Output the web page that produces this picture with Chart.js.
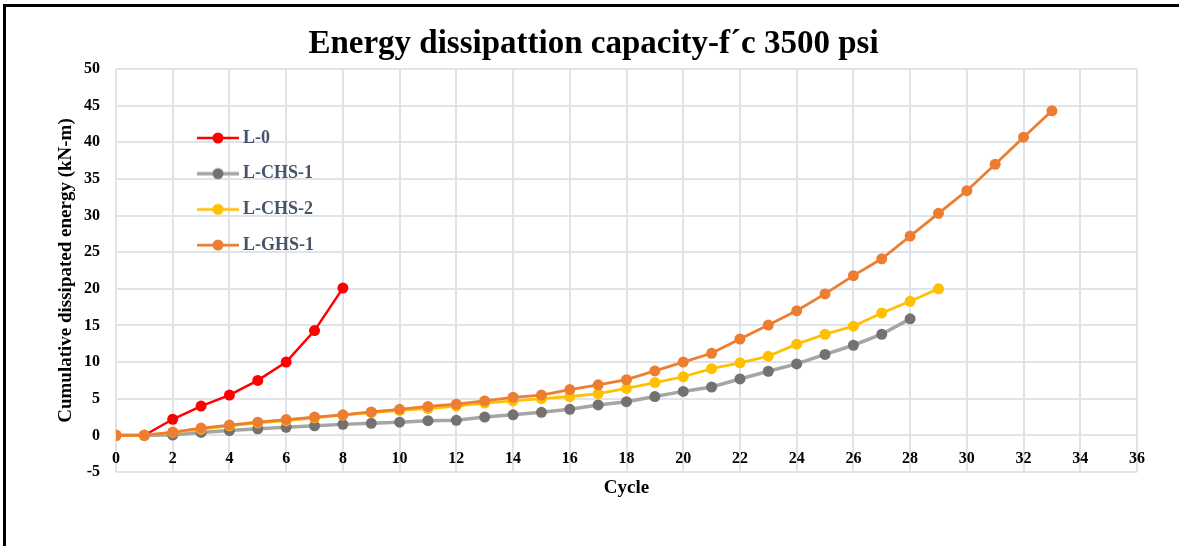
<!DOCTYPE html>
<html>
<head>
<meta charset="utf-8">
<script src="https://cdn.jsdelivr.net/npm/chart.js@4/dist/chart.umd.min.js"></script>
<style>
  html, body { margin: 0; padding: 0; background: #fff; }
  #wrap { position: relative; width: 1179px; height: 546px; overflow: hidden; background: #fff; }
  #wrap canvas { position: absolute; left: 0; top: 0; }
  #frame { position: absolute; left: 3px; top: 4px; right: -10px; bottom: -10px;
           border-left: 3px solid #000; border-top: 3px solid #000; pointer-events: none; }
</style>
</head>
<body>
<div id="wrap">
  <canvas id="chart" width="1179" height="546"></canvas>
  <div id="frame"></div>
</div>
<script>
// Cumulative dissipated energy (kN-m) per loading cycle; index = cycle number
const seriesNames = ['L-0', 'L-CHS-1', 'L-CHS-2', 'L-GHS-1'];
const energyL0 = [0, 0, 2.2, 4.0, 5.5, 7.5, 10.0, 14.3, 20.1];
const energyLCHS1 = [0, 0, 0.05, 0.4, 0.65, 0.9, 1.1, 1.3, 1.5, 1.65, 1.8, 2.0, 2.05, 2.5, 2.8,
  3.15, 3.55, 4.15, 4.6, 5.3, 6.0, 6.6, 7.7, 8.75, 9.75, 11.05, 12.3, 13.8, 15.9];
const energyLCHS2 = [0, 0, 0.4, 0.85, 1.3, 1.7, 2.0, 2.4, 2.75, 3.1, 3.4, 3.65, 4.0, 4.4, 4.7,
  5.0, 5.3, 5.7, 6.4, 7.2, 8.0, 9.1, 9.9, 10.8, 12.45, 13.8, 14.9, 16.7, 18.3, 20.0];
const energyLGHS1 = [0, 0, 0.45, 1.0, 1.4, 1.8, 2.15, 2.5, 2.8, 3.2, 3.55, 3.95, 4.25, 4.7, 5.2,
  5.5, 6.25, 6.9, 7.6, 8.8, 10.0, 11.2, 13.15, 15.05, 17.0, 19.3, 21.8, 24.1, 27.2, 30.3, 33.4,
  37.0, 40.7, 44.3];
const yTicks = { min: -5, max: 50, step: 5 };
const xTicks = { min: 0, max: 36, step: 2 };

const serif = "'Liberation Serif', 'Times New Roman', serif";
const gridColor = '#e0e3ea';

const toPoints = (values) => values.map((v, cycle) => ({ x: cycle, y: v }));

function series(label, values, lineColor, markerColor, width, order) {
  return {
    label,
    data: toPoints(values),
    borderColor: lineColor,
    backgroundColor: markerColor,
    borderWidth: width,
    pointRadius: 5.5,
    pointHoverRadius: 5.5,
    pointBackgroundColor: markerColor,
    pointBorderColor: markerColor,
    pointBorderWidth: 0,
    tension: 0,
    order
  };
}

// legend icon: a short line segment with a marker in the middle
function legendIcon(lineColor, markerColor, width) {
  const c = document.createElement('canvas');
  c.width = 42; c.height = 14;
  const g = c.getContext('2d');
  g.strokeStyle = lineColor; g.lineWidth = width;
  g.beginPath(); g.moveTo(0, 7); g.lineTo(42, 7); g.stroke();
  g.fillStyle = markerColor;
  g.beginPath(); g.arc(21, 7, 5.5, 0, Math.PI * 2); g.fill();
  return c;
}

// place the legend inside the plot, upper left
const legendPlacement = {
  id: 'legendPlacement',
  afterLayout(chart) {
    const lg = chart.legend;
    if (!lg) return;
    const pad = lg.options.labels.padding;
    lg.left = 202 - pad;
    lg.top = 129 - pad;
    lg.width = 280; lg.height = 320;
    lg.right = lg.left + lg.width;
    lg.bottom = lg.top + lg.height;
  }
};

const datasets = [
  series(seriesNames[0], energyL0, '#ff0000', '#ff0000', 2.5, 3),
  series(seriesNames[1], energyLCHS1, '#a5a5a5', '#767171', 3.5, 2),
  series(seriesNames[2], energyLCHS2, '#ffc000', '#ffc000', 2.75, 1),
  series(seriesNames[3], energyLGHS1, '#ed7d31', '#ed7d31', 2.75, 0)
];

new Chart(document.getElementById('chart'), {
  type: 'line',
  data: { datasets },
  options: {
    responsive: false,
    animation: false,
    devicePixelRatio: 1,
    layout: { padding: { left: 50, top: 10, right: 42, bottom: 74 } },
    plugins: {
      title: {
        display: true,
        text: 'Energy dissipattion capacity-f\u00b4c 3500 psi',
        color: '#000',
        font: { family: serif, size: 33, weight: 'bold' },
        padding: { top: 14.2, bottom: 5.2 }
      },
      legend: {
        position: 'chartArea',
        align: 'start',
        labels: {
          usePointStyle: true,
          pointStyleWidth: 32,
          padding: 17.67,
          color: '#44546a',
          font: { family: serif, size: 18, weight: 'bold' },
          sort: (a, b) => a.datasetIndex - b.datasetIndex,
          generateLabels(chart) {
            const items = Chart.defaults.plugins.legend.labels.generateLabels(chart);
            return items.map((it) => {
              const ds = chart.data.datasets[it.datasetIndex];
              it.pointStyle = legendIcon(ds.borderColor, ds.pointBackgroundColor, ds.borderWidth);
              return it;
            });
          }
        }
      },
      tooltip: { enabled: false }
    },
    scales: {
      x: {
        type: 'linear',
        position: { y: 0 },
        min: xTicks.min,
        max: xTicks.max,
        ticks: { stepSize: xTicks.step, padding: 13.4, color: '#000',
                 font: { family: serif, size: 16, weight: 'bold' } },
        grid: { color: gridColor, lineWidth: 2, drawTicks: false },
        border: { display: false },
        title: { display: true, text: 'Cycle', color: '#000', padding: 0,
                 font: { family: serif, size: 19, weight: 'bold' } },
        afterFit(scale) { scale.height = 64.4; }
      },
      y: {
        type: 'linear',
        position: 'left',
        min: yTicks.min,
        max: yTicks.max,
        ticks: { stepSize: yTicks.step, padding: 16, color: '#000',
                 font: { family: serif, size: 16, weight: 'bold' } },
        grid: { color: gridColor, lineWidth: 2, drawTicks: false },
        border: { display: false },
        title: { display: true, text: 'Cumulative dissipated energy (kN-m)', color: '#000',
                 padding: { top: 4.6, bottom: 0 },
                 font: { family: serif, size: 19, weight: 'bold' } },
        afterFit(scale) { scale.width = 66; }
      }
    }
  },
  plugins: [legendPlacement]
});
</script>
</body>
</html>
